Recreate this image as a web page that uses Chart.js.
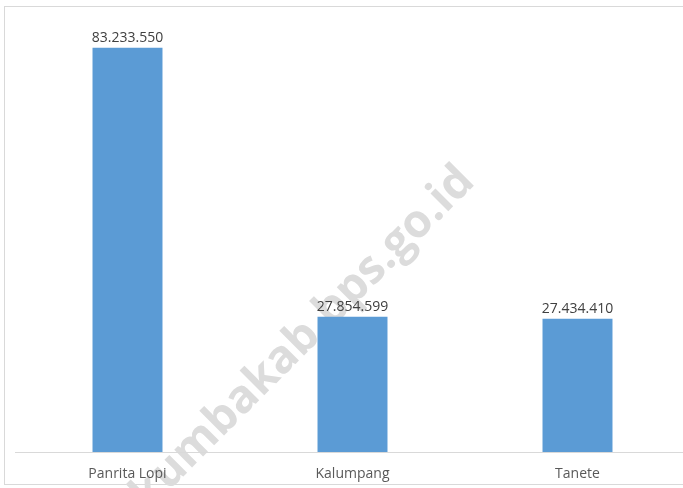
<!DOCTYPE html>
<html>
<head>
<meta charset="utf-8">
<script src="https://cdn.jsdelivr.net/npm/chart.js@4.4.1/dist/chart.umd.min.js"></script>
<style>
    html, body { margin: 0; padding: 0; background: #fff; overflow: hidden; }
    #frame {
        position: absolute; left: 4px; top: 6px; width: 720px; height: 479px;
        border: 1px solid #d9d9d9; box-sizing: border-box;
    }
    #wrap { position: absolute; left: 0; top: 0; width: 700px; height: 488px; }
</style>
</head>
<body>
<div id="frame"></div>
<div id="wrap"><canvas id="chart"></canvas></div>
<script>
// values
const villages = ['Panrita Lopi', 'Kalumpang', 'Tanete'];
const amounts = [83233550, 27854599, 27434410];
const yMax = 90000000;
const watermark = 'bulukumbakab.bps.go.id';

function dotted(n) {
    return String(n).replace(/\B(?=(\d{3})+(?!\d))/g, '.');
}

// grey diagonal watermark, behind axis text and bars
const watermarkPlugin = {
    id: 'watermark',
    beforeDraw(chart) {
        const ctx = chart.ctx;
        ctx.save();
        ctx.translate(467, 174);
        ctx.rotate(-Math.PI / 4);
        ctx.font = 'bold 46px "Open Sans"';
        ctx.fillStyle = '#dcdcdc';
        ctx.textAlign = 'right';
        ctx.textBaseline = 'middle';
        ctx.fillText(watermark, 0, 0);
        ctx.restore();
    }
};

// value labels above each bar
const valueLabels = {
    id: 'valueLabels',
    afterDatasetsDraw(chart) {
        const ctx = chart.ctx;
        const meta = chart.getDatasetMeta(0);
        ctx.save();
        ctx.font = '14px "Open Sans"';
        ctx.fillStyle = '#404040';
        ctx.textAlign = 'center';
        ctx.textBaseline = 'alphabetic';
        meta.data.forEach((bar, i) => {
            ctx.fillText(dotted(amounts[i]), bar.x, bar.y - 6);
        });
        ctx.restore();
    }
};

new Chart(document.getElementById('chart'), {
    type: 'bar',
    data: {
        labels: villages,
        datasets: [{
            data: amounts,
            backgroundColor: '#5b9bd5',
            borderWidth: 0,
            barPercentage: 1,
            categoryPercentage: 0.311
        }]
    },
    options: {
        responsive: true,
        maintainAspectRatio: false,
        animation: false,
        layout: { padding: { left: 15, right: 10, top: 15, bottom: 0 } },
        plugins: {
            legend: { display: false },
            tooltip: { enabled: false }
        },
        scales: {
            x: {
                grid: { display: false },
                border: { display: true, color: '#d9d9d9', width: 1 },
                ticks: {
                    color: '#595959',
                    font: { family: '"Open Sans"', size: 14 },
                    padding: 6
                },
                afterFit(scale) { scale.height = 36; }
            },
            y: {
                display: false,
                min: 0,
                max: yMax
            }
        }
    },
    plugins: [watermarkPlugin, valueLabels]
});
</script>
</body>
</html>
